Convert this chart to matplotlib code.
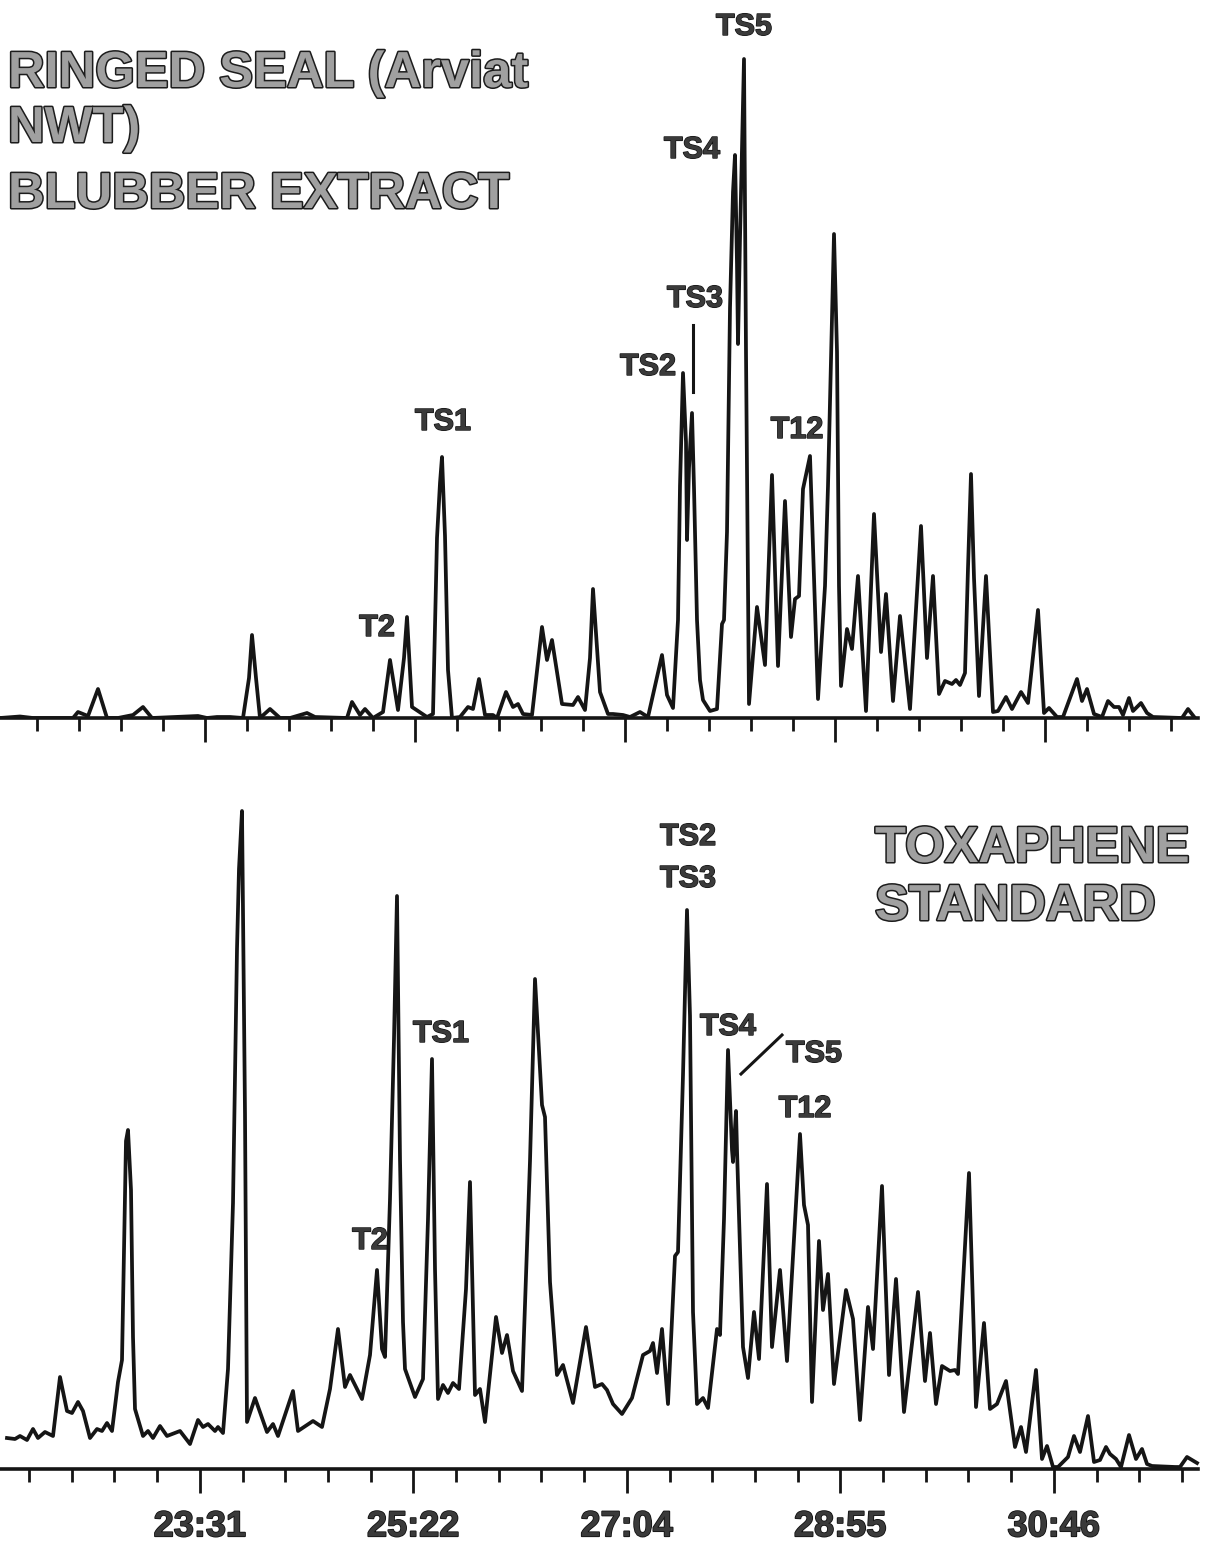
import numpy as np
import matplotlib
matplotlib.use("Agg")
import matplotlib.pyplot as plt
import matplotlib.patheffects as pe
from matplotlib.lines import Line2D
from matplotlib import font_manager

# ---------------- data ----------------
# retention position (scan units) and detector response (arbitrary units)
seal_x = [0, 20, 33, 73, 78, 88, 98, 107, 118, 133, 143, 152, 198, 207, 217, 230, 243,
          249, 252, 256, 260, 270, 280, 290, 307, 315, 347, 352, 360, 365, 373, 383, 390, 398,
          404, 407, 412, 427, 433, 437, 440, 442, 445, 448, 452, 460, 468, 473, 479, 485, 493,
          497, 506, 513, 518, 523, 532, 542, 547, 552, 562, 573, 578, 585, 590, 593, 600, 608,
          613, 623, 630, 640, 648, 662, 667, 673, 678, 680, 683, 686, 687, 689, 692, 694,
          697, 700, 703, 710, 717, 722, 724, 727, 730, 733, 735, 737, 738, 740, 744, 746,
          749, 757, 765, 772, 778, 785, 791, 795, 799, 803, 810, 818, 825, 828, 832, 834,
          837, 839, 841, 847, 852, 858, 866, 874, 881, 886, 893, 900, 910, 921, 927, 933,
          939, 945, 952, 956, 960, 965, 968, 971, 974, 979, 986, 993, 998, 1006, 1012, 1021,
          1028, 1038, 1044, 1049, 1057, 1063, 1077, 1082, 1087, 1094, 1102, 1108, 1114, 1119,
          1123, 1129, 1133, 1141, 1147, 1153, 1182, 1188, 1195]
seal_y = [0, 1.5, 0, 0, 6, 2, 29, 0, 0, 3, 11, 0, 2, 0, 1, 1, 0,
          40, 83, 40, 0, 9, 0, 0, 5, 1, 0, 16, 3, 9, 0, 6, 58, 8,
          60, 101, 11, 1, 4, 180, 235, 261, 182, 48, 0, 1, 11, 9, 39, 3, 3,
          0, 26, 11, 14, 4, 3, 91, 58, 78, 14, 13, 21, 8, 60, 129, 26, 4,
          4, 3, 1, 6, 1, 63, 23, 10, 98, 232, 345, 276, 178, 250, 305, 230,
          98, 38, 18, 7, 9, 94, 98, 186, 410, 526, 563, 454, 374, 480, 659, 365,
          14, 111, 53, 243, 52, 217, 81, 119, 122, 229, 262, 19, 132, 232, 400, 484,
          366, 132, 32, 89, 69, 142, 7, 204, 66, 124, 17, 102, 9, 192, 60, 142,
          24, 37, 34, 38, 33, 45, 150, 244, 140, 22, 142, 6, 7, 21, 9, 26,
          15, 108, 5, 10, 1, 1, 39, 17, 29, 4, 1, 17, 11, 11,
          3, 20, 7, 15, 5, 1, 0, 9, 0]

std_x = [7, 15, 20, 27, 33, 38, 45, 53, 60, 67, 72, 78, 83, 90, 97, 102, 107, 112, 118,
         122, 124, 126, 128, 131, 133, 135, 143, 148, 153, 160, 167, 180, 190, 198, 203, 208,
         215, 218, 223, 228, 233, 237, 239, 242, 245, 247, 255, 267, 273, 278, 293, 298,
         313, 322, 330, 338, 345, 350, 355, 362, 370, 377, 382, 385, 390, 394, 397, 400,
         403, 405, 415, 423, 428, 432, 435, 438, 443, 448, 453, 459, 466, 470, 473, 475,
         480, 485, 496, 502, 507, 513, 522, 530, 535, 542, 545, 550, 557, 563, 573, 586,
         595, 602, 607, 613, 622, 632, 643, 650, 653, 657, 662, 668, 675, 678, 683, 687,
         690, 693, 697, 703, 708, 717, 720, 724, 728, 732, 733, 736, 737, 743, 748, 754,
         759, 767, 772, 780, 787, 800, 804, 808, 812, 819, 823, 828, 834, 846, 853, 860,
         868, 873, 882, 889, 896, 904, 918, 925, 930, 936, 942, 950, 955, 958, 969, 976,
         984, 990, 997, 1006, 1015, 1021, 1026, 1036, 1042, 1047, 1053, 1058, 1068, 1074,
         1080, 1088, 1094, 1100, 1106, 1110, 1116, 1121, 1129, 1136, 1142, 1147, 1152,
         1175, 1180, 1187, 1197]
std_y = [31, 30, 33, 29, 40, 31, 37, 33, 92, 58, 56, 67, 58, 31, 40, 38, 46, 38, 87,
         109, 221, 328, 339, 279, 132, 60, 33, 38, 31, 43, 33, 38, 25, 49, 42, 45,
         38, 42, 36, 100, 266, 520, 600, 658, 355, 47, 71, 37, 45, 33, 78, 38,
         48, 42, 80, 140, 82, 94, 84, 70, 114, 199, 120, 112, 270, 430, 573, 310,
         147, 100, 72, 90, 250, 410, 200, 70, 84, 76, 86, 80, 180, 287, 160, 74,
         80, 47, 152, 116, 134, 98, 78, 308, 490, 364, 352, 187, 94, 104, 66, 142,
         82, 85, 79, 65, 55, 71, 114, 118, 126, 96, 140, 65, 213, 217, 394, 559,
         453, 157, 65, 71, 61, 140, 134, 250, 419, 319, 307, 358, 319, 122, 91, 157,
         110, 285, 122, 199, 108, 335, 264, 244, 67, 228, 159, 195, 85, 179, 150, 49,
         162, 120, 283, 94, 190, 57, 177, 88, 136, 65, 103, 98, 99, 95, 296, 62,
         146, 60, 65, 88, 22, 42, 17, 99, 10, 23, 2, 2, 12, 33,
         17, 53, 7, 9, 22, 15, 10, 2, 34, 10, 20, 5, 3,
         2, 2, 12, 6]

time_labels = ["23:31", "25:22", "27:04", "28:55", "30:46"]

# ---------------- figure ----------------
W, H = 1212, 1547
fig = plt.figure(figsize=(W / 100, H / 100), dpi=100)
fig.patch.set_facecolor("white")

bold_fam = ["Liberation Sans", "DejaVu Sans"]
names = {f.name for f in font_manager.fontManager.ttflist}
has_narrow = "Liberation Sans Narrow" in names
narrow_fam = ["Liberation Sans Narrow", "Liberation Sans"] if has_narrow else bold_fam


def fx(px):
    return px / W


def fy(py):
    return 1 - py / H


LINE = "#151515"

# top panel: axis line at ~718 px from top
ax1 = fig.add_axes([0, fy(718), 1, 718 / H])
ax1.plot(seal_x, seal_y, color=LINE, lw=2.7, solid_joinstyle="round")
ax1.set_xlim(0, W)
ax1.set_ylim(0, 718)

# bottom panel: axis line at ~1469 px from top
ax2 = fig.add_axes([0, fy(1469), 1, 700 / H])
ax2.plot(std_x, std_y, color=LINE, lw=2.7, solid_joinstyle="round")
ax2.set_xlim(0, W)
ax2.set_ylim(0, 700)

for ax, start, step in ((ax1, 37, 42.0), (ax2, 29, 42.7)):
    for s in ("left", "right", "top"):
        ax.spines[s].set_visible(False)
    ax.spines["bottom"].set_linewidth(2.6)
    ax.spines["bottom"].set_color(LINE)
    ax.spines["bottom"].set_bounds(0, 1198)
    ax.patch.set_alpha(0)
    ax.set_yticks([])
    k = np.arange(28)
    pos = start + step * k
    major = pos[k % 5 == 4]
    minor = pos[k % 5 != 4]
    ax.set_xticks(major)
    ax.set_xticks(minor, minor=True)
    ax.tick_params(axis="x", which="major", direction="out", length=17, width=2.0,
                   color=LINE)
    ax.tick_params(axis="x", which="minor", direction="out", length=9, width=2.0,
                   color=LINE)

ax1.set_xticklabels([])
ax2.set_xticklabels(time_labels)
ax2.tick_params(axis="x", which="major", pad=12, labelsize=(30 if has_narrow else 26))
for t in ax2.get_xticklabels():
    t.set_fontfamily(narrow_fam)
    t.set_fontweight("bold")
    t.set_color("#3a3a3a")
    t.set_path_effects([pe.withStroke(linewidth=1.2, foreground="#111111")])

# ---------------- big titles ----------------
title_fx = [pe.withStroke(linewidth=2.2, foreground="#1c1c1c")]
big = dict(fontsize=36.5, fontweight="bold", family=bold_fam, color="#a0a0a0",
           ha="left", va="baseline", path_effects=title_fx)
fig.text(fx(8), fy(87), "RINGED SEAL (Arviat", **big)
fig.text(fx(8), fy(142), "NWT)", **big)
fig.text(fx(8), fy(208), "BLUBBER EXTRACT", **big)
fig.text(fx(875), fy(862), "TOXAPHENE", **big)
fig.text(fx(875), fy(920), "STANDARD", **big)

# ---------------- peak labels ----------------
lab = dict(fontsize=22, fontweight="bold", family=bold_fam, color="#3a3a3a",
           ha="center", va="baseline",
           path_effects=[pe.withStroke(linewidth=1.0, foreground="#111111")])
for txt, x, y in [("TS5", 744, 35), ("TS4", 692, 158), ("TS3", 695, 307),
                  ("TS2", 648, 375), ("TS1", 443, 430), ("T2", 377, 636),
                  ("T12", 797, 438),
                  ("TS2", 688, 845), ("TS3", 688, 887), ("TS4", 728, 1035),
                  ("TS5", 814, 1062), ("T12", 805, 1117), ("TS1", 441, 1042),
                  ("T2", 370, 1249)]:
    fig.text(fx(x), fy(y), txt, **lab)

# leader lines
fig.add_artist(Line2D([fx(693), fx(693)], [fy(325), fy(392)], color=LINE, lw=2.2,
                      transform=fig.transFigure))
fig.add_artist(Line2D([fx(741), fx(782)], [fy(1074), fy(1035)], color=LINE, lw=2.2,
                      transform=fig.transFigure))

fig.savefig("out.png", dpi=100, facecolor="white")
